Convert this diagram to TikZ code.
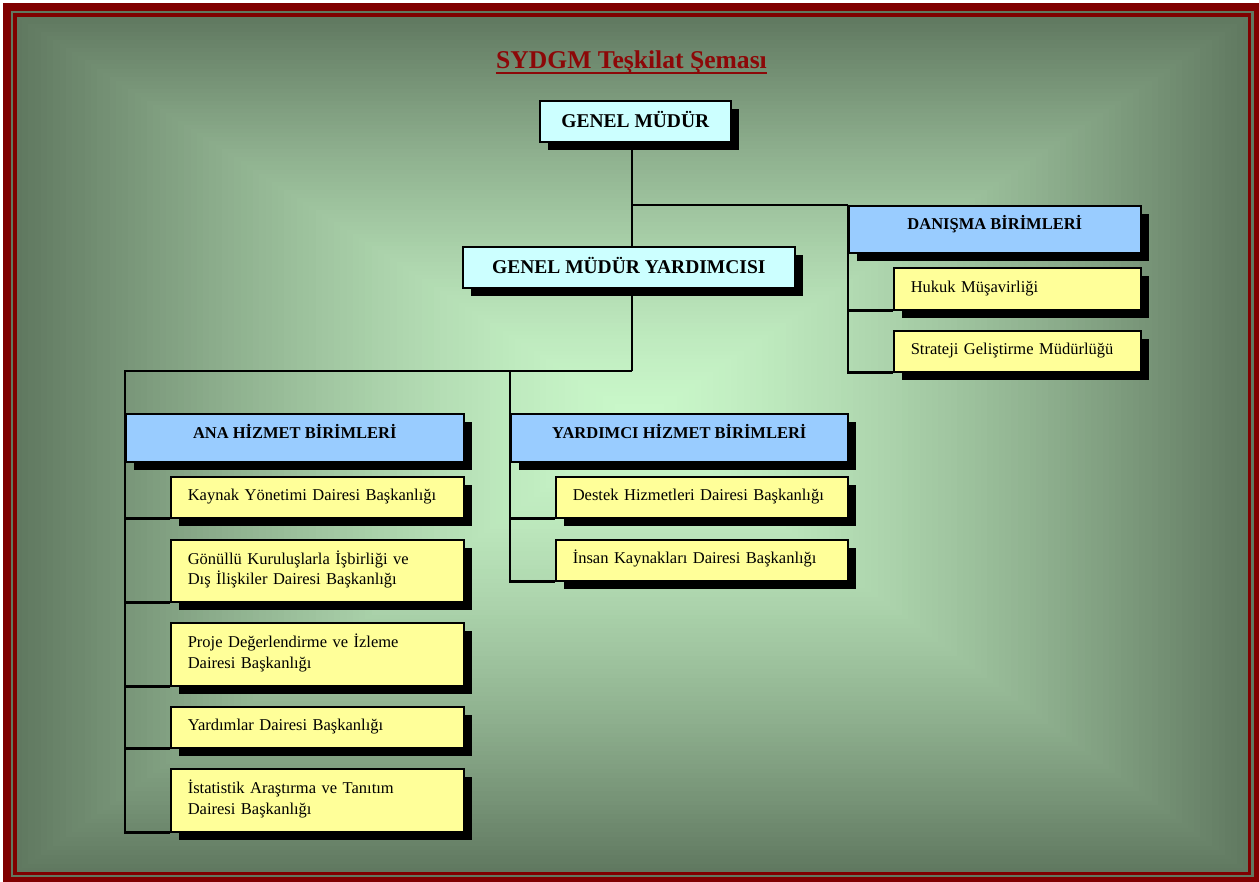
\documentclass[tikz,border=0pt]{standalone}
\usepackage{fontspec}
\setmainfont{Liberation Serif}
\usetikzlibrary{shadows}
\definecolor{framered}{RGB}{128,0,0}
\definecolor{titlered}{RGB}{140,8,8}
\definecolor{bgedge}{RGB}{96,120,96}
\definecolor{bgcenter}{RGB}{202,248,202}
\definecolor{cyanbox}{RGB}{204,255,255}
\definecolor{bluebox}{RGB}{153,204,255}
\definecolor{yellowbox}{RGB}{255,255,153}
\pgfdeclarelayer{bglayer}
\pgfdeclarelayer{connlayer}
\pgfsetlayers{bglayer,connlayer,main}
\begin{document}
\begin{tikzpicture}[x=1pt,y=-1pt,
  box/.style={draw=black, line width=1.6pt, rectangle, anchor=north west, inner sep=0pt,
    drop shadow={fill=black, opacity=1, shadow xshift=8pt, shadow yshift=-8pt}},
  headbox/.style={box, fill=cyanbox, font=\fontsize{19.5}{23}\selectfont\bfseries, text height=13pt, text depth=0pt},
  bluehead/.style={box, fill=bluebox, font=\fontsize{16.5}{20}\selectfont\bfseries, text height=12pt, text depth=11pt},
  yel/.style={box, fill=yellowbox, font=\fontsize{16.5}{20.5}\selectfont, align=left, inner xsep=17pt, inner ysep=0pt, text height=11pt, text depth=4pt},
  yeltwo/.style={yel, text depth=24.5pt},
  conn/.style={draw=black, line width=2.8pt}]
\useasboundingbox (0,0) rectangle (1259,882);
\begin{pgfonlayer}{bglayer}
\fill[white] (0,0) rectangle (1259,882);
\fill[framered] (3,3) rectangle (1259,882);
\fill[bgedge] (11,11) rectangle (1254,877);
\foreach \i in {100,99,...,1}{
  \pgfmathsetmacro\t{\i/100}
  \pgfmathsetmacro\p{100*(\t^1.4)}
  \fill[bgedge!\p!bgcenter] ({640-\t*(640-16)},{420-\t*(420-16)}) rectangle ({640+\t*(1249-640)},{420+\t*(873-420)});
}
\draw[framered, line width=3.5pt] (15,15) rectangle (1249.5,873.5);
\end{pgfonlayer}
% title
\node[inner sep=0pt, anchor=base, text=titlered, font=\fontsize{25.6}{30}\selectfont\bfseries] (title) at (631.5,69) {SYDGM Teşkilat Şeması};
\draw[titlered, line width=2pt] ([yshift=-4pt]title.base west) -- ([yshift=-4pt]title.base east);
% boxes
\path (539,100) node[headbox, minimum width=191pt, minimum height=41pt] (gm) {GENEL MÜDÜR};
\path (462,246) node[headbox, minimum width=332pt, minimum height=41pt] (gmy) {GENEL MÜDÜR YARDIMCISI};
\path (848,205) node[bluehead, minimum width=292pt, minimum height=47pt] (dan) {DANIŞMA BİRİMLERİ};
\path (893,267) node[yel, text width=213pt, minimum height=42pt] (hukuk) {Hukuk Müşavirliği};
\path (893,330) node[yel, text width=213pt, minimum height=41pt] (strat) {Strateji Geliştirme Müdürlüğü};
\path (125,413) node[bluehead, minimum width=338pt, minimum height=48pt] (ana) {ANA HİZMET BİRİMLERİ};
\path (170,476) node[yel, text width=259pt, minimum height=41pt] (kaynak) {Kaynak Yönetimi Dairesi Başkanlığı};
\path (170,539) node[yeltwo, text width=259pt, minimum height=62pt] (gonullu) {Gönüllü Kuruluşlarla İşbirliği ve\\Dış İlişkiler Dairesi Başkanlığı};
\path (170,622) node[yeltwo, text width=259pt, minimum height=63pt] (proje) {Proje Değerlendirme ve İzleme\\Dairesi Başkanlığı};
\path (170,706) node[yel, text width=259pt, minimum height=41pt] (yardimlar) {Yardımlar Dairesi Başkanlığı};
\path (170,768) node[yeltwo, text width=259pt, minimum height=63pt] (istat) {İstatistik Araştırma ve Tanıtım\\Dairesi Başkanlığı};
\path (510,413) node[bluehead, minimum width=337pt, minimum height=48pt] (yard) {YARDIMCI HİZMET BİRİMLERİ};
\path (555,476) node[yel, text width=258pt, minimum height=41pt] (destek) {Destek Hizmetleri Dairesi Başkanlığı};
\path (555,539) node[yel, text width=258pt, minimum height=41pt] (insan) {İnsan Kaynakları Dairesi Başkanlığı};
% connectors
\coordinate (trunk) at (632,0);
\coordinate (bus) at (632,371);
\begin{pgfonlayer}{connlayer}
\draw[conn] (gm.south -| trunk) -- (gmy.north -| trunk);
\draw[conn] (gm.south -| trunk) |- (dan.north west);
\draw[conn] (gmy.south -| trunk) -- (bus);
\draw[conn] (bus) -| (ana.north west);
\draw[conn] (bus -| yard.north west) -- (yard.north west);
\draw[conn] (dan.north west) |- (hukuk.south west);
\draw[conn] (dan.north west) |- (strat.south west);
\draw[conn] (ana.north west) |- (kaynak.south west);
\draw[conn] (ana.north west) |- (gonullu.south west);
\draw[conn] (ana.north west) |- (proje.south west);
\draw[conn] (ana.north west) |- (yardimlar.south west);
\draw[conn] (ana.north west) |- (istat.south west);
\draw[conn] (yard.north west) |- (destek.south west);
\draw[conn] (yard.north west) |- (insan.south west);
\end{pgfonlayer}
\end{tikzpicture}
\end{document}
